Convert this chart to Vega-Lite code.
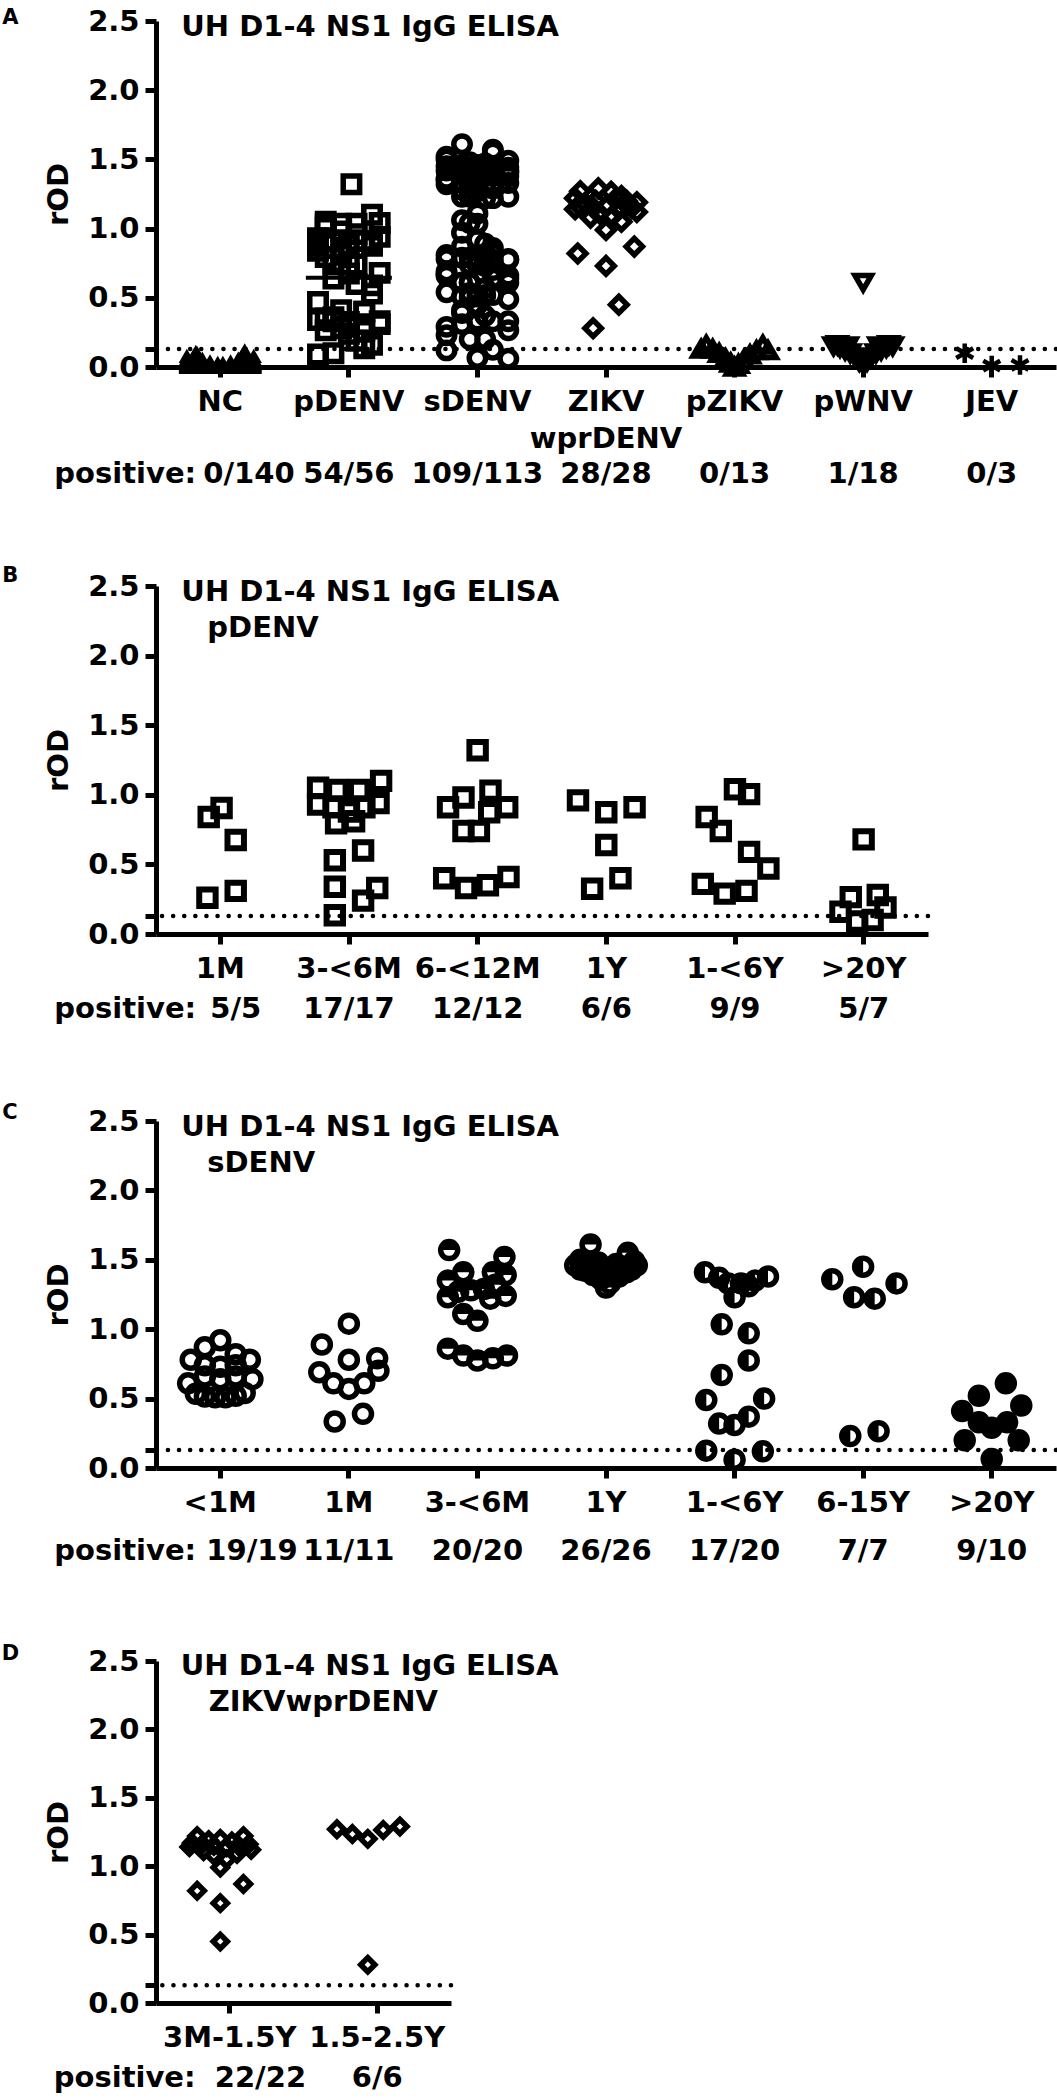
{
  "$schema": "https://vega.github.io/schema/vega-lite/v6.json",
  "background": "white",
  "padding": {"left": 1, "top": 7, "right": 0, "bottom": 0},
  "spacing": 76,
  "config": {
    "view": {"stroke": null},
    "font": "DejaVu Sans",
    "axis": {
      "grid": false, "domainColor": "black", "domainWidth": 5, "tickColor": "black", "tickWidth": 5,
      "labelColor": "black", "labelFont": "DejaVu Sans", "labelFontWeight": "bold", "labelFontSize": 29,
      "titleColor": "black", "titleFont": "DejaVu Sans", "titleFontWeight": "bold", "titleFontSize": 29
    },
    "axisX": {"tickSize": 10, "labelPadding": 10, "labelAngle": 0, "labelBaseline": "top", "labelLineHeight": 37, "labelOverlap": false, "labelFlush": false},
    "axisY": {"tickSize": 11, "labelPadding": 6, "titlePadding": 14},
    "text": {"font": "DejaVu Sans", "fontWeight": "bold", "fontSize": 29, "color": "black", "baseline": "middle"}
  },
  "datasets": {
    "posA": [
      {"g": "NC", "n": "0/140"}, {"g": "pDENV", "n": "54/56"}, {"g": "sDENV", "n": "109/113"},
      {"g": "ZIKVwprDENV", "n": "28/28"}, {"g": "pZIKV", "n": "0/13"}, {"g": "pWNV", "n": "1/18"}, {"g": "JEV", "n": "0/3"}
    ],
    "posB": [
      {"g": "1M", "n": "5/5"}, {"g": "3-<6M", "n": "17/17"}, {"g": "6-<12M", "n": "12/12"},
      {"g": "1Y", "n": "6/6"}, {"g": "1-<6Y", "n": "9/9"}, {"g": ">20Y", "n": "5/7"}
    ],
    "posC": [
      {"g": "<1M", "n": "19/19"}, {"g": "1M", "n": "11/11"}, {"g": "3-<6M", "n": "20/20"}, {"g": "1Y", "n": "26/26"},
      {"g": "1-<6Y", "n": "17/20"}, {"g": "6-15Y", "n": "7/7"}, {"g": ">20Y", "n": "9/10"}
    ],
    "posD": [
      {"g": "3M-1.5Y", "n": "22/22"}, {"g": "1.5-2.5Y", "n": "6/6"}
    ],
    "ptsA": [
      {"g":"NC","v":0.02,"j":-0.26},{"g":"NC","v":0.03,"j":-0.2},{"g":"NC","v":0.01,"j":-0.14},{"g":"NC","v":0.0,"j":-0.08},{"g":"NC","v":0.0,"j":-0.02},{"g":"NC","v":0.0,"j":0.02},{"g":"NC","v":0.0,"j":0.08},{"g":"NC","v":0.01,"j":0.14},{"g":"NC","v":0.03,"j":0.2},{"g":"NC","v":0.02,"j":0.26},
      {"g":"NC","v":0.04,"j":-0.26},{"g":"NC","v":0.05,"j":-0.2},{"g":"NC","v":0.02,"j":-0.14},{"g":"NC","v":0.01,"j":-0.08},{"g":"NC","v":0.0,"j":-0.02},{"g":"NC","v":0.01,"j":0.02},{"g":"NC","v":0.01,"j":0.08},{"g":"NC","v":0.02,"j":0.14},{"g":"NC","v":0.05,"j":0.2},{"g":"NC","v":0.04,"j":0.26},
      {"g":"NC","v":0.06,"j":-0.26},{"g":"NC","v":0.07,"j":-0.2},{"g":"NC","v":0.03,"j":-0.14},{"g":"NC","v":0.01,"j":-0.08},{"g":"NC","v":0.01,"j":-0.02},{"g":"NC","v":0.0,"j":0.02},{"g":"NC","v":0.01,"j":0.08},{"g":"NC","v":0.03,"j":0.14},{"g":"NC","v":0.07,"j":0.2},{"g":"NC","v":0.06,"j":0.26},
      {"g":"NC","v":0.01,"j":-0.26},{"g":"NC","v":0.09,"j":-0.2},{"g":"NC","v":0.04,"j":-0.14},{"g":"NC","v":0.02,"j":-0.08},{"g":"NC","v":0.01,"j":-0.02},{"g":"NC","v":0.01,"j":0.02},{"g":"NC","v":0.02,"j":0.08},{"g":"NC","v":0.04,"j":0.14},{"g":"NC","v":0.09,"j":0.2},{"g":"NC","v":0.01,"j":0.26},
      {"g":"NC","v":0.03,"j":-0.26},{"g":"NC","v":0.11,"j":-0.19},{"g":"NC","v":0.02,"j":-0.14},{"g":"NC","v":0.0,"j":-0.08},{"g":"NC","v":0.02,"j":-0.02},{"g":"NC","v":0.02,"j":0.02},{"g":"NC","v":0.0,"j":0.08},{"g":"NC","v":0.02,"j":0.14},{"g":"NC","v":0.12,"j":0.19},{"g":"NC","v":0.03,"j":0.26},
      {"g":"NC","v":0.05,"j":-0.26},{"g":"NC","v":0.01,"j":-0.2},{"g":"NC","v":0.05,"j":-0.14},{"g":"NC","v":0.03,"j":-0.08},{"g":"NC","v":0.01,"j":-0.02},{"g":"NC","v":0.0,"j":0.02},{"g":"NC","v":0.03,"j":0.08},{"g":"NC","v":0.05,"j":0.14},{"g":"NC","v":0.01,"j":0.2},{"g":"NC","v":0.05,"j":0.26},
      {"g":"NC","v":0.08,"j":-0.26},{"g":"NC","v":0.04,"j":-0.2},{"g":"NC","v":0.0,"j":-0.14},{"g":"NC","v":0.02,"j":-0.08},{"g":"NC","v":0.0,"j":-0.02},{"g":"NC","v":0.01,"j":0.02},{"g":"NC","v":0.02,"j":0.08},{"g":"NC","v":0.0,"j":0.14},{"g":"NC","v":0.04,"j":0.2},{"g":"NC","v":0.08,"j":0.26},
      {"g":"NC","v":0.0,"j":-0.26},{"g":"NC","v":0.06,"j":-0.2},{"g":"NC","v":0.03,"j":-0.14},{"g":"NC","v":0.01,"j":-0.08},{"g":"NC","v":0.02,"j":-0.02},{"g":"NC","v":0.02,"j":0.02},{"g":"NC","v":0.01,"j":0.08},{"g":"NC","v":0.03,"j":0.14},{"g":"NC","v":0.06,"j":0.2},{"g":"NC","v":0.0,"j":0.26},
      {"g":"NC","v":0.02,"j":-0.26},{"g":"NC","v":0.08,"j":-0.2},{"g":"NC","v":0.01,"j":-0.14},{"g":"NC","v":0.03,"j":-0.08},{"g":"NC","v":0.0,"j":-0.02},{"g":"NC","v":0.0,"j":0.02},{"g":"NC","v":0.03,"j":0.08},{"g":"NC","v":0.01,"j":0.14},{"g":"NC","v":0.08,"j":0.2},{"g":"NC","v":0.02,"j":0.26},
      {"g":"NC","v":0.04,"j":-0.26},{"g":"NC","v":0.02,"j":-0.2},{"g":"NC","v":0.04,"j":-0.14},{"g":"NC","v":0.0,"j":-0.08},{"g":"NC","v":0.01,"j":-0.02},{"g":"NC","v":0.01,"j":0.02},{"g":"NC","v":0.0,"j":0.08},{"g":"NC","v":0.04,"j":0.14},{"g":"NC","v":0.02,"j":0.2},{"g":"NC","v":0.04,"j":0.26},
      {"g":"NC","v":0.01,"j":-0.26},{"g":"NC","v":0.1,"j":-0.18},{"g":"NC","v":0.02,"j":-0.14},{"g":"NC","v":0.02,"j":-0.08},{"g":"NC","v":0.03,"j":-0.02},{"g":"NC","v":0.03,"j":0.02},{"g":"NC","v":0.02,"j":0.08},{"g":"NC","v":0.02,"j":0.14},{"g":"NC","v":0.1,"j":0.18},{"g":"NC","v":0.01,"j":0.26},
      {"g":"NC","v":0.03,"j":-0.26},{"g":"NC","v":0.05,"j":-0.2},{"g":"NC","v":0.06,"j":-0.14},{"g":"NC","v":0.01,"j":-0.08},{"g":"NC","v":0.0,"j":-0.02},{"g":"NC","v":0.0,"j":0.02},{"g":"NC","v":0.01,"j":0.08},{"g":"NC","v":0.06,"j":0.14},{"g":"NC","v":0.05,"j":0.2},{"g":"NC","v":0.03,"j":0.26},
      {"g":"NC","v":0.05,"j":-0.26},{"g":"NC","v":0.03,"j":-0.2},{"g":"NC","v":0.0,"j":-0.14},{"g":"NC","v":0.04,"j":-0.08},{"g":"NC","v":0.02,"j":-0.02},{"g":"NC","v":0.02,"j":0.02},{"g":"NC","v":0.04,"j":0.08},{"g":"NC","v":0.0,"j":0.14},{"g":"NC","v":0.03,"j":0.2},{"g":"NC","v":0.05,"j":0.26},
      {"g":"NC","v":0.02,"j":-0.26},{"g":"NC","v":0.07,"j":-0.2},{"g":"NC","v":0.04,"j":-0.14},{"g":"NC","v":0.0,"j":-0.08},{"g":"NC","v":0.01,"j":-0.02},{"g":"NC","v":0.0,"j":0.02},{"g":"NC","v":0.0,"j":0.08},{"g":"NC","v":0.04,"j":0.14},{"g":"NC","v":0.07,"j":0.2},{"g":"NC","v":0.02,"j":0.26},
      {"g":"pDENV","v":0.84,"j":-0.24},{"g":"pDENV","v":0.905,"j":-0.12},{"g":"pDENV","v":0.675,"j":0},{"g":"pDENV","v":0.26,"j":0.12},{"g":"pDENV","v":0.31,"j":0.24},
      {"g":"pDENV","v":1.05,"j":-0.18},{"g":"pDENV","v":1.035,"j":-0.06},{"g":"pDENV","v":1.035,"j":0.06},{"g":"pDENV","v":1.1,"j":0.18},{"g":"pDENV","v":0.93,"j":-0.24},{"g":"pDENV","v":0.91,"j":-0.12},{"g":"pDENV","v":0.88,"j":0},{"g":"pDENV","v":0.91,"j":0.12},{"g":"pDENV","v":0.94,"j":0.24},{"g":"pDENV","v":0.795,"j":-0.18},{"g":"pDENV","v":0.81,"j":-0.06},{"g":"pDENV","v":0.6,"j":0.06},{"g":"pDENV","v":0.53,"j":0.18},{"g":"pDENV","v":0.34,"j":-0.24},{"g":"pDENV","v":0.33,"j":-0.12},{"g":"pDENV","v":0.24,"j":0},{"g":"pDENV","v":0.135,"j":0.12},
      {"g":"pDENV","v":1.32,"j":0.02},{"g":"pDENV","v":1.03,"j":-0.18},{"g":"pDENV","v":0.98,"j":-0.06},{"g":"pDENV","v":0.91,"j":0.06},{"g":"pDENV","v":0.91,"j":0.18},{"g":"pDENV","v":0.875,"j":-0.24},{"g":"pDENV","v":0.74,"j":-0.12},{"g":"pDENV","v":0.74,"j":0},{"g":"pDENV","v":0.4,"j":0.12},{"g":"pDENV","v":0.33,"j":0.24},{"g":"pDENV","v":0.35,"j":-0.18},{"g":"pDENV","v":0.41,"j":-0.06},
      {"g":"pDENV","v":0.96,"j":0.06},{"g":"pDENV","v":0.875,"j":0.18},{"g":"pDENV","v":0.91,"j":-0.24},{"g":"pDENV","v":0.64,"j":-0.12},{"g":"pDENV","v":0.325,"j":0},{"g":"pDENV","v":0.4,"j":0.12},
      {"g":"pDENV","v":1.04,"j":0.24},{"g":"pDENV","v":1.005,"j":-0.18},{"g":"pDENV","v":0.84,"j":-0.06},{"g":"pDENV","v":0.74,"j":0.06},{"g":"pDENV","v":0.59,"j":0.18},{"g":"pDENV","v":0.47,"j":-0.24},{"g":"pDENV","v":0.36,"j":-0.12},{"g":"pDENV","v":0.29,"j":0},{"g":"pDENV","v":0.31,"j":0.12},
      {"g":"pDENV","v":0.68,"j":0.24},{"g":"pDENV","v":0.265,"j":-0.18},{"g":"pDENV","v":0.28,"j":-0.06},{"g":"pDENV","v":0.19,"j":0.06},{"g":"pDENV","v":0.16,"j":0.18},{"g":"pDENV","v":0.09,"j":-0.24},{"g":"pDENV","v":0.1,"j":-0.12},
      {"g":"sDENV","v":0.92,"j":0},{"g":"sDENV","v":0.87,"j":-0.12},{"g":"sDENV","v":0.82,"j":0.12},{"g":"sDENV","v":0.78,"j":-0.24},{"g":"sDENV","v":0.78,"j":0.24},{"g":"sDENV","v":0.74,"j":-0.06},{"g":"sDENV","v":0.73,"j":0.06},{"g":"sDENV","v":0.74,"j":0},{"g":"sDENV","v":0.61,"j":-0.12},{"g":"sDENV","v":0.64,"j":0.12},{"g":"sDENV","v":0.66,"j":-0.24},{"g":"sDENV","v":0.66,"j":0.24},{"g":"sDENV","v":0.535,"j":-0.06},{"g":"sDENV","v":0.515,"j":0.06},{"g":"sDENV","v":0.51,"j":0},{"g":"sDENV","v":0.51,"j":-0.12},{"g":"sDENV","v":0.52,"j":0.12},{"g":"sDENV","v":0.54,"j":-0.24},{"g":"sDENV","v":0.64,"j":0.24},
      {"g":"sDENV","v":1.04,"j":-0.06},{"g":"sDENV","v":0.89,"j":0.06},{"g":"sDENV","v":0.78,"j":0},{"g":"sDENV","v":0.79,"j":-0.12},{"g":"sDENV","v":0.7,"j":0.12},{"g":"sDENV","v":0.69,"j":-0.24},{"g":"sDENV","v":0.61,"j":0.24},{"g":"sDENV","v":0.61,"j":-0.06},{"g":"sDENV","v":0.57,"j":0.06},{"g":"sDENV","v":0.335,"j":0},{"g":"sDENV","v":0.39,"j":-0.12},
      {"g":"sDENV","v":1.57,"j":0.12},{"g":"sDENV","v":1.52,"j":-0.24},{"g":"sDENV","v":1.41,"j":0.24},{"g":"sDENV","v":1.41,"j":-0.06},{"g":"sDENV","v":1.39,"j":0.06},{"g":"sDENV","v":1.35,"j":0},{"g":"sDENV","v":1.28,"j":-0.12},{"g":"sDENV","v":1.29,"j":0.12},{"g":"sDENV","v":1.32,"j":-0.24},{"g":"sDENV","v":1.23,"j":0.24},{"g":"sDENV","v":1.24,"j":-0.06},{"g":"sDENV","v":1.22,"j":0.06},{"g":"sDENV","v":1.11,"j":0},{"g":"sDENV","v":1.06,"j":-0.12},{"g":"sDENV","v":0.86,"j":0.12},{"g":"sDENV","v":0.81,"j":-0.24},{"g":"sDENV","v":0.775,"j":0.24},{"g":"sDENV","v":0.79,"j":-0.06},{"g":"sDENV","v":0.81,"j":0.06},{"g":"sDENV","v":1.27,"j":0},
      {"g":"sDENV","v":1.61,"j":-0.12},{"g":"sDENV","v":1.55,"j":0.12},{"g":"sDENV","v":1.5,"j":-0.24},{"g":"sDENV","v":1.49,"j":0.24},{"g":"sDENV","v":1.48,"j":-0.06},{"g":"sDENV","v":1.47,"j":0.06},{"g":"sDENV","v":1.46,"j":0},{"g":"sDENV","v":1.46,"j":-0.12},{"g":"sDENV","v":1.45,"j":0.12},{"g":"sDENV","v":1.45,"j":-0.24},{"g":"sDENV","v":1.44,"j":0.24},{"g":"sDENV","v":1.44,"j":-0.06},{"g":"sDENV","v":1.43,"j":0.06},{"g":"sDENV","v":1.43,"j":0},{"g":"sDENV","v":1.43,"j":-0.12},{"g":"sDENV","v":1.42,"j":0.12},{"g":"sDENV","v":1.42,"j":-0.24},{"g":"sDENV","v":1.41,"j":0.24},{"g":"sDENV","v":1.41,"j":-0.06},{"g":"sDENV","v":1.4,"j":0.06},{"g":"sDENV","v":1.4,"j":0},{"g":"sDENV","v":1.39,"j":-0.12},{"g":"sDENV","v":1.38,"j":0.12},{"g":"sDENV","v":1.36,"j":-0.24},{"g":"sDENV","v":1.33,"j":0.24},{"g":"sDENV","v":1.3,"j":-0.06},
      {"g":"sDENV","v":1.41,"j":0.06},{"g":"sDENV","v":1.37,"j":0},{"g":"sDENV","v":1.33,"j":-0.12},{"g":"sDENV","v":1.33,"j":0.12},{"g":"sDENV","v":1.35,"j":-0.24},{"g":"sDENV","v":1.38,"j":0.24},{"g":"sDENV","v":1.23,"j":-0.06},{"g":"sDENV","v":1.31,"j":0.06},{"g":"sDENV","v":1.035,"j":0},{"g":"sDENV","v":0.97,"j":-0.12},{"g":"sDENV","v":0.775,"j":0.12},{"g":"sDENV","v":0.67,"j":-0.24},{"g":"sDENV","v":0.49,"j":0.24},{"g":"sDENV","v":0.5,"j":-0.06},{"g":"sDENV","v":0.37,"j":0.06},{"g":"sDENV","v":0.32,"j":0},{"g":"sDENV","v":0.31,"j":-0.12},{"g":"sDENV","v":0.125,"j":0.12},{"g":"sDENV","v":0.12,"j":-0.24},{"g":"sDENV","v":0.06,"j":0.24},
      {"g":"sDENV","v":1.36,"j":-0.06},{"g":"sDENV","v":1.45,"j":0.06},{"g":"sDENV","v":1.33,"j":0},{"g":"sDENV","v":1.23,"j":-0.12},{"g":"sDENV","v":1.22,"j":0.12},{"g":"sDENV","v":0.23,"j":-0.24},{"g":"sDENV","v":0.265,"j":0.24},
      {"g":"sDENV","v":0.61,"j":-0.06},{"g":"sDENV","v":0.52,"j":0.06},{"g":"sDENV","v":0.45,"j":0},{"g":"sDENV","v":0.41,"j":-0.12},{"g":"sDENV","v":0.33,"j":0.12},{"g":"sDENV","v":0.29,"j":-0.24},{"g":"sDENV","v":0.33,"j":0.24},{"g":"sDENV","v":0.2,"j":-0.06},{"g":"sDENV","v":0.2,"j":0.06},{"g":"sDENV","v":0.065,"j":0},
      {"g":"ZIKVwprDENV","v":1.22,"j":-0.24},{"g":"ZIKVwprDENV","v":1.2,"j":-0.08},{"g":"ZIKVwprDENV","v":1.22,"j":0.08},{"g":"ZIKVwprDENV","v":1.19,"j":0.24},{"g":"ZIKVwprDENV","v":1.18,"j":-0.16},{"g":"ZIKVwprDENV","v":1.17,"j":0.16},{"g":"ZIKVwprDENV","v":1.16,"j":0},{"g":"ZIKVwprDENV","v":1.16,"j":-0.2},{"g":"ZIKVwprDENV","v":1.15,"j":0.2},{"g":"ZIKVwprDENV","v":1.15,"j":-0.1},{"g":"ZIKVwprDENV","v":1.14,"j":0.1},{"g":"ZIKVwprDENV","v":1.14,"j":-0.24},{"g":"ZIKVwprDENV","v":1.12,"j":0.24},{"g":"ZIKVwprDENV","v":1.11,"j":-0.05},{"g":"ZIKVwprDENV","v":1.09,"j":0.05},{"g":"ZIKVwprDENV","v":1.08,"j":-0.12},{"g":"ZIKVwprDENV","v":1.05,"j":0.12},{"g":"ZIKVwprDENV","v":0.99,"j":0},
      {"g":"ZIKVwprDENV","v":0.82,"j":-0.22},{"g":"ZIKVwprDENV","v":0.73,"j":0},{"g":"ZIKVwprDENV","v":0.87,"j":0.22},{"g":"ZIKVwprDENV","v":0.45,"j":0.1},
      {"g":"ZIKVwprDENV","v":1.27,"j":-0.2},{"g":"ZIKVwprDENV","v":1.235,"j":0.12},{"g":"ZIKVwprDENV","v":1.2,"j":0.16},{"g":"ZIKVwprDENV","v":1.265,"j":0.04},{"g":"ZIKVwprDENV","v":1.29,"j":-0.06},{"g":"ZIKVwprDENV","v":0.28,"j":-0.1},
      {"g":"pZIKV","v":0.13,"j":-0.26},{"g":"pZIKV","v":0.16,"j":-0.22},{"g":"pZIKV","v":0.13,"j":-0.17},{"g":"pZIKV","v":0.1,"j":-0.12},{"g":"pZIKV","v":0.06,"j":-0.07},{"g":"pZIKV","v":0.03,"j":-0.03},{"g":"pZIKV","v":0.0,"j":0},{"g":"pZIKV","v":0.02,"j":0.03},{"g":"pZIKV","v":0.05,"j":0.07},{"g":"pZIKV","v":0.09,"j":0.12},{"g":"pZIKV","v":0.12,"j":0.17},{"g":"pZIKV","v":0.16,"j":0.22},{"g":"pZIKV","v":0.12,"j":0.26},
      {"g":"pWNV","v":0.61,"j":0},{"g":"pWNV","v":0.15,"j":-0.23},{"g":"pWNV","v":0.16,"j":-0.2},{"g":"pWNV","v":0.14,"j":-0.18},{"g":"pWNV","v":0.12,"j":-0.14},{"g":"pWNV","v":0.15,"j":-0.12},{"g":"pWNV","v":0.1,"j":-0.1},{"g":"pWNV","v":0.07,"j":-0.06},{"g":"pWNV","v":0.04,"j":-0.03},{"g":"pWNV","v":0.02,"j":0},{"g":"pWNV","v":0.04,"j":0.03},{"g":"pWNV","v":0.07,"j":0.06},{"g":"pWNV","v":0.1,"j":0.1},{"g":"pWNV","v":0.15,"j":0.12},{"g":"pWNV","v":0.12,"j":0.14},{"g":"pWNV","v":0.14,"j":0.18},{"g":"pWNV","v":0.16,"j":0.2},{"g":"pWNV","v":0.15,"j":0.23},
      {"g":"JEV","v":0.1,"j":-0.21},{"g":"JEV","v":0.01,"j":0},{"g":"JEV","v":0.015,"j":0.22}
    ],
    "ptsB": [
      {"g":"1M","v":0.84,"j":-0.09},{"g":"1M","v":0.905,"j":0.01},{"g":"1M","v":0.675,"j":0.12},{"g":"1M","v":0.26,"j":-0.1},{"g":"1M","v":0.31,"j":0.12},
      {"g":"3-<6M","v":1.05,"j":-0.24},{"g":"3-<6M","v":1.035,"j":-0.09},{"g":"3-<6M","v":1.035,"j":0.08},{"g":"3-<6M","v":1.1,"j":0.25},{"g":"3-<6M","v":0.93,"j":-0.24},{"g":"3-<6M","v":0.91,"j":-0.12},{"g":"3-<6M","v":0.88,"j":0},{"g":"3-<6M","v":0.91,"j":0.12},{"g":"3-<6M","v":0.94,"j":0.23},{"g":"3-<6M","v":0.795,"j":-0.1},{"g":"3-<6M","v":0.81,"j":0.04},{"g":"3-<6M","v":0.6,"j":0.11},{"g":"3-<6M","v":0.53,"j":-0.11},{"g":"3-<6M","v":0.34,"j":-0.11},{"g":"3-<6M","v":0.33,"j":0.22},{"g":"3-<6M","v":0.24,"j":0.11},{"g":"3-<6M","v":0.135,"j":-0.11},
      {"g":"6-<12M","v":1.32,"j":0},{"g":"6-<12M","v":1.03,"j":0.1},{"g":"6-<12M","v":0.98,"j":-0.11},{"g":"6-<12M","v":0.91,"j":0.23},{"g":"6-<12M","v":0.91,"j":-0.23},{"g":"6-<12M","v":0.875,"j":0.09},{"g":"6-<12M","v":0.74,"j":-0.11},{"g":"6-<12M","v":0.74,"j":0.01},{"g":"6-<12M","v":0.4,"j":-0.26},{"g":"6-<12M","v":0.33,"j":-0.09},{"g":"6-<12M","v":0.35,"j":0.08},{"g":"6-<12M","v":0.41,"j":0.24},
      {"g":"1Y","v":0.96,"j":-0.22},{"g":"1Y","v":0.875,"j":0},{"g":"1Y","v":0.91,"j":0.22},{"g":"1Y","v":0.64,"j":0},{"g":"1Y","v":0.325,"j":-0.11},{"g":"1Y","v":0.4,"j":0.11},
      {"g":"1-<6Y","v":1.04,"j":0},{"g":"1-<6Y","v":1.005,"j":0.11},{"g":"1-<6Y","v":0.84,"j":-0.22},{"g":"1-<6Y","v":0.74,"j":-0.11},{"g":"1-<6Y","v":0.59,"j":0.11},{"g":"1-<6Y","v":0.47,"j":0.26},{"g":"1-<6Y","v":0.36,"j":-0.25},{"g":"1-<6Y","v":0.29,"j":-0.08},{"g":"1-<6Y","v":0.31,"j":0.09},
      {"g":">20Y","v":0.68,"j":0},{"g":">20Y","v":0.265,"j":-0.1},{"g":">20Y","v":0.28,"j":0.11},{"g":">20Y","v":0.19,"j":0.17},{"g":">20Y","v":0.16,"j":-0.18},{"g":">20Y","v":0.09,"j":-0.05},{"g":">20Y","v":0.1,"j":0.07}
    ],
    "ptsC": [
      {"g":"<1M","v":0.92,"j":0},{"g":"<1M","v":0.87,"j":-0.12},{"g":"<1M","v":0.82,"j":0.12},{"g":"<1M","v":0.78,"j":-0.23},{"g":"<1M","v":0.78,"j":0.23},{"g":"<1M","v":0.74,"j":-0.12},{"g":"<1M","v":0.73,"j":0},{"g":"<1M","v":0.74,"j":0.12},{"g":"<1M","v":0.61,"j":-0.25},{"g":"<1M","v":0.64,"j":0.25},{"g":"<1M","v":0.66,"j":-0.12},{"g":"<1M","v":0.66,"j":0.12},{"g":"<1M","v":0.535,"j":-0.19},{"g":"<1M","v":0.515,"j":-0.12},{"g":"<1M","v":0.51,"j":-0.04},{"g":"<1M","v":0.51,"j":0.04},{"g":"<1M","v":0.52,"j":0.12},{"g":"<1M","v":0.54,"j":0.19},{"g":"<1M","v":0.64,"j":0},
      {"g":"1M","v":1.04,"j":0},{"g":"1M","v":0.89,"j":-0.21},{"g":"1M","v":0.78,"j":0},{"g":"1M","v":0.79,"j":0.22},{"g":"1M","v":0.7,"j":0.23},{"g":"1M","v":0.69,"j":-0.23},{"g":"1M","v":0.61,"j":-0.12},{"g":"1M","v":0.61,"j":0.12},{"g":"1M","v":0.57,"j":0},{"g":"1M","v":0.335,"j":-0.11},{"g":"1M","v":0.39,"j":0.11},
      {"g":"3-<6M","v":1.57,"j":-0.22},{"g":"3-<6M","v":1.52,"j":0.21},{"g":"3-<6M","v":1.41,"j":-0.11},{"g":"3-<6M","v":1.41,"j":0.12},{"g":"3-<6M","v":1.39,"j":0.22},{"g":"3-<6M","v":1.35,"j":-0.23},{"g":"3-<6M","v":1.28,"j":-0.05},{"g":"3-<6M","v":1.29,"j":0.05},{"g":"3-<6M","v":1.32,"j":0.14},{"g":"3-<6M","v":1.23,"j":-0.23},{"g":"3-<6M","v":1.24,"j":0.22},{"g":"3-<6M","v":1.22,"j":0.1},{"g":"3-<6M","v":1.11,"j":-0.11},{"g":"3-<6M","v":1.06,"j":0},{"g":"3-<6M","v":0.86,"j":-0.23},{"g":"3-<6M","v":0.81,"j":-0.11},{"g":"3-<6M","v":0.775,"j":0},{"g":"3-<6M","v":0.79,"j":0.12},{"g":"3-<6M","v":0.81,"j":0.23},{"g":"3-<6M","v":1.27,"j":-0.15},
      {"g":"1Y","v":1.61,"j":-0.12},{"g":"1Y","v":1.55,"j":0.17},{"g":"1Y","v":1.5,"j":-0.2},{"g":"1Y","v":1.49,"j":0.22},{"g":"1Y","v":1.48,"j":-0.06},{"g":"1Y","v":1.47,"j":0.08},{"g":"1Y","v":1.46,"j":-0.24},{"g":"1Y","v":1.46,"j":0.24},{"g":"1Y","v":1.45,"j":-0.14},{"g":"1Y","v":1.45,"j":0.14},{"g":"1Y","v":1.44,"j":-0.02},{"g":"1Y","v":1.44,"j":0.04},{"g":"1Y","v":1.43,"j":-0.2},{"g":"1Y","v":1.43,"j":0.2},{"g":"1Y","v":1.43,"j":-0.09},{"g":"1Y","v":1.42,"j":0.1},{"g":"1Y","v":1.42,"j":-0.16},{"g":"1Y","v":1.41,"j":0.16},{"g":"1Y","v":1.41,"j":0},{"g":"1Y","v":1.4,"j":-0.06},{"g":"1Y","v":1.4,"j":0.06},{"g":"1Y","v":1.39,"j":-0.1},{"g":"1Y","v":1.38,"j":0.1},{"g":"1Y","v":1.36,"j":-0.04},{"g":"1Y","v":1.33,"j":0.03},{"g":"1Y","v":1.3,"j":0},
      {"g":"1-<6Y","v":1.41,"j":-0.23},{"g":"1-<6Y","v":1.37,"j":-0.12},{"g":"1-<6Y","v":1.33,"j":-0.05},{"g":"1-<6Y","v":1.33,"j":0.05},{"g":"1-<6Y","v":1.35,"j":0.16},{"g":"1-<6Y","v":1.38,"j":0.26},{"g":"1-<6Y","v":1.23,"j":0},{"g":"1-<6Y","v":1.31,"j":0.11},{"g":"1-<6Y","v":1.035,"j":-0.1},{"g":"1-<6Y","v":0.97,"j":0.11},{"g":"1-<6Y","v":0.775,"j":0.11},{"g":"1-<6Y","v":0.67,"j":-0.1},{"g":"1-<6Y","v":0.49,"j":-0.22},{"g":"1-<6Y","v":0.5,"j":0.23},{"g":"1-<6Y","v":0.37,"j":0.11},{"g":"1-<6Y","v":0.32,"j":-0.12},{"g":"1-<6Y","v":0.31,"j":0},{"g":"1-<6Y","v":0.125,"j":-0.22},{"g":"1-<6Y","v":0.12,"j":0.22},{"g":"1-<6Y","v":0.06,"j":0},
      {"g":"6-15Y","v":1.36,"j":-0.24},{"g":"6-15Y","v":1.45,"j":0},{"g":"6-15Y","v":1.33,"j":0.26},{"g":"6-15Y","v":1.23,"j":-0.07},{"g":"6-15Y","v":1.22,"j":0.09},{"g":"6-15Y","v":0.23,"j":-0.1},{"g":"6-15Y","v":0.265,"j":0.12},
      {"g":">20Y","v":0.61,"j":0.11},{"g":">20Y","v":0.52,"j":-0.1},{"g":">20Y","v":0.45,"j":0.23},{"g":">20Y","v":0.41,"j":-0.23},{"g":">20Y","v":0.33,"j":-0.1},{"g":">20Y","v":0.29,"j":0},{"g":">20Y","v":0.33,"j":0.12},{"g":">20Y","v":0.2,"j":-0.21},{"g":">20Y","v":0.2,"j":0.21},{"g":">20Y","v":0.065,"j":0}
    ],
    "ptsD": [
      {"g":"3M-1.5Y","v":1.22,"j":-0.18},{"g":"3M-1.5Y","v":1.2,"j":0},{"g":"3M-1.5Y","v":1.22,"j":0.18},{"g":"3M-1.5Y","v":1.19,"j":-0.09},{"g":"3M-1.5Y","v":1.18,"j":0.09},{"g":"3M-1.5Y","v":1.17,"j":-0.22},{"g":"3M-1.5Y","v":1.16,"j":0.22},{"g":"3M-1.5Y","v":1.16,"j":-0.14},{"g":"3M-1.5Y","v":1.15,"j":0.14},{"g":"3M-1.5Y","v":1.15,"j":-0.05},{"g":"3M-1.5Y","v":1.14,"j":0.05},{"g":"3M-1.5Y","v":1.14,"j":-0.24},{"g":"3M-1.5Y","v":1.12,"j":0.24},{"g":"3M-1.5Y","v":1.11,"j":-0.13},{"g":"3M-1.5Y","v":1.09,"j":0.13},{"g":"3M-1.5Y","v":1.08,"j":-0.05},{"g":"3M-1.5Y","v":1.05,"j":0.05},{"g":"3M-1.5Y","v":0.99,"j":0},
      {"g":"3M-1.5Y","v":0.82,"j":-0.18},{"g":"3M-1.5Y","v":0.73,"j":0},{"g":"3M-1.5Y","v":0.87,"j":0.18},{"g":"3M-1.5Y","v":0.45,"j":0},
      {"g":"1.5-2.5Y","v":1.27,"j":-0.24},{"g":"1.5-2.5Y","v":1.235,"j":-0.12},{"g":"1.5-2.5Y","v":1.2,"j":0},{"g":"1.5-2.5Y","v":1.265,"j":0.12},{"g":"1.5-2.5Y","v":1.29,"j":0.25},{"g":"1.5-2.5Y","v":0.28,"j":0}
    ]
  },
  "vconcat": [
    {
      "width": 900, "height": 346,
      "layer": [
        {
          "data": {"values": [{}]},
          "mark": {"type": "rule", "color": "black", "strokeWidth": 4.5, "strokeCap": "round", "strokeDash": [0.1, 11]},
          "encoding": {"y": {"datum": 0.13, "type": "quantitative", "scale": {"domain": [0, 2.5], "nice": false, "zero": false}}}
        },
        {
          "data": {"name": "ptsA"},
          "transform": [{"filter": "datum.g != 'NC' && datum.g != 'JEV'"}],
          "mark": {"type": "point", "filled": false, "size": 270, "strokeWidth": 5.5, "color": "black", "opacity": 1},
          "encoding": {
            "x": {"field": "g", "type": "nominal",
                  "scale": {"type": "band", "domain": ["NC","pDENV","sDENV","ZIKVwprDENV","pZIKV","pWNV","JEV"], "paddingInner": 0, "paddingOuter": 0},
                  "axis": {"title": null, "labelExpr": "datum.label == 'ZIKVwprDENV' ? ['ZIKV', 'wprDENV'] : datum.label"}},
            "xOffset": {"field": "j", "type": "quantitative", "scale": {"domain": [-0.5, 0.5], "range": [0, 128.57]}},
            "y": {"field": "v", "type": "quantitative", "scale": {"domain": [0, 2.5], "nice": false, "zero": false},
                  "axis": {"title": "rOD", "values": [0, 0.5, 1, 1.5, 2, 2.5, 0.13], "labelExpr": "datum.value == 0.13 ? '' : format(datum.value, '.1f')"}},
            "shape": {"field": "g", "type": "nominal", "legend": null,
                      "scale": {"domain": ["pDENV","sDENV","ZIKVwprDENV","pZIKV","pWNV"],
                                "range": ["square","circle","diamond","triangle-up","triangle-down"]}}
          }
        },
        {
          "data": {"name": "ptsA"},
          "transform": [{"filter": "datum.g == 'NC'"}],
          "mark": {"type": "point", "shape": "triangle-up", "filled": true, "size": 270, "color": "black", "opacity": 1},
          "encoding": {
            "x": {"field": "g", "type": "nominal"},
            "xOffset": {"field": "j", "type": "quantitative"},
            "y": {"field": "v", "type": "quantitative"}
          }
        },
        {
          "data": {"name": "ptsA"},
          "transform": [{"filter": "datum.g == 'JEV'"}],
          "mark": {"type": "point", "shape": "M0,-1L0,1M-0.87,-0.5L0.87,0.5M-0.87,0.5L0.87,-0.5", "filled": false, "size": 380, "strokeWidth": 4.5, "color": "black", "opacity": 1},
          "encoding": {
            "x": {"field": "g", "type": "nominal"},
            "xOffset": {"field": "j", "type": "quantitative"},
            "y": {"field": "v", "type": "quantitative"}
          }
        },
        {
          "data": {"name": "ptsA"},
          "transform": [{"filter": "datum.g == 'pDENV'"}, {"aggregate": [{"op": "mean", "field": "v", "as": "m"}], "groupby": ["g"]}],
          "mark": {"type": "tick", "color": "black", "size": 86, "thickness": 4, "opacity": 1},
          "encoding": {"x": {"field": "g", "type": "nominal"}, "y": {"field": "m", "type": "quantitative"}}
        },
        {
          "data": {"name": "posA"},
          "transform": [{"filter": "datum.g == 'NC'"}],
          "mark": {"type": "text", "text": "UH D1-4 NS1 IgG ELISA", "align": "left", "dx": -39},
          "encoding": {"x": {"field": "g", "type": "nominal"}, "y": {"datum": 2.46, "type": "quantitative"}}
        },
        {
          "data": {"name": "posA"},
          "transform": [{"filter": "datum.g == 'NC'"}],
          "mark": {"type": "text", "text": "A", "align": "left", "dx": -218, "fontSize": 21},
          "encoding": {"x": {"field": "g", "type": "nominal"}, "y": {"datum": 2.52, "type": "quantitative"}}
        },
        {
          "data": {"name": "posA"},
          "transform": [{"filter": "datum.g != 'NC'"}],
          "mark": {"type": "text", "align": "center"},
          "encoding": {"x": {"field": "g", "type": "nominal"}, "y": {"datum": -0.77, "type": "quantitative"}, "text": {"field": "n"}}
        },
        {
          "data": {"name": "posA"},
          "transform": [{"filter": "datum.g == 'NC'"}],
          "mark": {"type": "text", "align": "left", "dx": -17},
          "encoding": {"x": {"field": "g", "type": "nominal"}, "y": {"datum": -0.77, "type": "quantitative"}, "text": {"field": "n"}}
        },
        {
          "data": {"name": "posA"},
          "transform": [{"filter": "datum.g == 'NC'"}],
          "mark": {"type": "text", "text": "positive:", "align": "left", "dx": -166},
          "encoding": {"x": {"field": "g", "type": "nominal"}, "y": {"datum": -0.77, "type": "quantitative"}}
        }
      ]
    },
    {
      "width": 772, "height": 348,
      "layer": [
        {
          "data": {"values": [{}]},
          "mark": {"type": "rule", "color": "black", "strokeWidth": 4.5, "strokeCap": "round", "strokeDash": [0.1, 11]},
          "encoding": {"y": {"datum": 0.13, "type": "quantitative", "scale": {"domain": [0, 2.5], "nice": false, "zero": false}}}
        },
        {
          "data": {"name": "ptsB"},
          "mark": {"type": "point", "shape": "square", "filled": false, "size": 270, "strokeWidth": 6, "color": "black", "opacity": 1},
          "encoding": {
            "x": {"field": "g", "type": "nominal",
                  "scale": {"type": "band", "domain": ["1M","3-<6M","6-<12M","1Y","1-<6Y",">20Y"], "paddingInner": 0, "paddingOuter": 0},
                  "axis": {"title": null}},
            "xOffset": {"field": "j", "type": "quantitative", "scale": {"domain": [-0.5, 0.5], "range": [0, 128.67]}},
            "y": {"field": "v", "type": "quantitative", "scale": {"domain": [0, 2.5], "nice": false, "zero": false},
                  "axis": {"title": "rOD", "values": [0, 0.5, 1, 1.5, 2, 2.5, 0.13], "labelExpr": "datum.value == 0.13 ? '' : format(datum.value, '.1f')"}}
          }
        },
        {
          "data": {"name": "posB"},
          "transform": [{"filter": "datum.g == '1M'"}],
          "mark": {"type": "text", "text": "UH D1-4 NS1 IgG ELISA", "align": "left", "dx": -39},
          "encoding": {"x": {"field": "g", "type": "nominal"}, "y": {"datum": 2.46, "type": "quantitative"}}
        },
        {
          "data": {"name": "posB"},
          "transform": [{"filter": "datum.g == '1M'"}],
          "mark": {"type": "text", "text": "pDENV", "align": "left", "dx": -13},
          "encoding": {"x": {"field": "g", "type": "nominal"}, "y": {"datum": 2.2, "type": "quantitative"}}
        },
        {
          "data": {"name": "posB"},
          "transform": [{"filter": "datum.g == '1M'"}],
          "mark": {"type": "text", "text": "B", "align": "left", "dx": -218, "fontSize": 21},
          "encoding": {"x": {"field": "g", "type": "nominal"}, "y": {"datum": 2.57, "type": "quantitative"}}
        },
        {
          "data": {"name": "posB"},
          "transform": [{"filter": "datum.g != '1M'"}],
          "mark": {"type": "text", "align": "center"},
          "encoding": {"x": {"field": "g", "type": "nominal"}, "y": {"datum": -0.54, "type": "quantitative"}, "text": {"field": "n"}}
        },
        {
          "data": {"name": "posB"},
          "transform": [{"filter": "datum.g == '1M'"}],
          "mark": {"type": "text", "align": "left", "dx": -10},
          "encoding": {"x": {"field": "g", "type": "nominal"}, "y": {"datum": -0.54, "type": "quantitative"}, "text": {"field": "n"}}
        },
        {
          "data": {"name": "posB"},
          "transform": [{"filter": "datum.g == '1M'"}],
          "mark": {"type": "text", "text": "positive:", "align": "left", "dx": -166},
          "encoding": {"x": {"field": "g", "type": "nominal"}, "y": {"datum": -0.54, "type": "quantitative"}}
        }
      ]
    },
    {
      "width": 900, "height": 347,
      "layer": [
        {
          "data": {"values": [{}]},
          "mark": {"type": "rule", "color": "black", "strokeWidth": 4.5, "strokeCap": "round", "strokeDash": [0.1, 11]},
          "encoding": {"y": {"datum": 0.13, "type": "quantitative", "scale": {"domain": [0, 2.5], "nice": false, "zero": false}}}
        },
        {
          "data": {"name": "ptsC"},
          "mark": {"type": "point", "shape": "circle", "filled": false, "size": 289, "strokeWidth": 5.5, "color": "black", "opacity": 1},
          "encoding": {
            "x": {"field": "g", "type": "nominal",
                  "scale": {"type": "band", "domain": ["<1M","1M","3-<6M","1Y","1-<6Y","6-15Y",">20Y"], "paddingInner": 0, "paddingOuter": 0},
                  "axis": {"title": null}},
            "xOffset": {"field": "j", "type": "quantitative", "scale": {"domain": [-0.5, 0.5], "range": [0, 128.57]}},
            "y": {"field": "v", "type": "quantitative", "scale": {"domain": [0, 2.5], "nice": false, "zero": false},
                  "axis": {"title": "rOD", "values": [0, 0.5, 1, 1.5, 2, 2.5, 0.13], "labelExpr": "datum.value == 0.13 ? '' : format(datum.value, '.1f')"}}
          }
        },
        {
          "data": {"name": "ptsC"},
          "transform": [{"filter": {"field": "g", "oneOf": ["3-<6M", "1Y"]}}],
          "mark": {"type": "point", "shape": "M-1,0A1,1,0,0,1,1,0Z", "filled": true, "size": 289, "strokeWidth": 0, "color": "black", "opacity": 1},
          "encoding": {"x": {"field": "g", "type": "nominal"}, "xOffset": {"field": "j", "type": "quantitative"}, "y": {"field": "v", "type": "quantitative"}}
        },
        {
          "data": {"name": "ptsC"},
          "transform": [{"filter": {"field": "g", "oneOf": ["1-<6Y", "6-15Y"]}}],
          "mark": {"type": "point", "shape": "M0,-1A1,1,0,0,0,0,1Z", "filled": true, "size": 289, "strokeWidth": 0, "color": "black", "opacity": 1},
          "encoding": {"x": {"field": "g", "type": "nominal"}, "xOffset": {"field": "j", "type": "quantitative"}, "y": {"field": "v", "type": "quantitative"}}
        },
        {
          "data": {"name": "ptsC"},
          "transform": [{"filter": "datum.g == '>20Y'"}],
          "mark": {"type": "point", "shape": "circle", "filled": true, "size": 289, "strokeWidth": 0, "color": "black", "opacity": 1},
          "encoding": {"x": {"field": "g", "type": "nominal"}, "xOffset": {"field": "j", "type": "quantitative"}, "y": {"field": "v", "type": "quantitative"}}
        },
        {
          "data": {"name": "posC"},
          "transform": [{"filter": "datum.g == '<1M'"}],
          "mark": {"type": "text", "text": "UH D1-4 NS1 IgG ELISA", "align": "left", "dx": -39},
          "encoding": {"x": {"field": "g", "type": "nominal"}, "y": {"datum": 2.46, "type": "quantitative"}}
        },
        {
          "data": {"name": "posC"},
          "transform": [{"filter": "datum.g == '<1M'"}],
          "mark": {"type": "text", "text": "sDENV", "align": "left", "dx": -13},
          "encoding": {"x": {"field": "g", "type": "nominal"}, "y": {"datum": 2.2, "type": "quantitative"}}
        },
        {
          "data": {"name": "posC"},
          "transform": [{"filter": "datum.g == '<1M'"}],
          "mark": {"type": "text", "text": "C", "align": "left", "dx": -218, "fontSize": 21},
          "encoding": {"x": {"field": "g", "type": "nominal"}, "y": {"datum": 2.56, "type": "quantitative"}}
        },
        {
          "data": {"name": "posC"},
          "transform": [{"filter": "datum.g != '<1M'"}],
          "mark": {"type": "text", "align": "center"},
          "encoding": {"x": {"field": "g", "type": "nominal"}, "y": {"datum": -0.6, "type": "quantitative"}, "text": {"field": "n"}}
        },
        {
          "data": {"name": "posC"},
          "transform": [{"filter": "datum.g == '<1M'"}],
          "mark": {"type": "text", "align": "left", "dx": -14},
          "encoding": {"x": {"field": "g", "type": "nominal"}, "y": {"datum": -0.6, "type": "quantitative"}, "text": {"field": "n"}}
        },
        {
          "data": {"name": "posC"},
          "transform": [{"filter": "datum.g == '<1M'"}],
          "mark": {"type": "text", "text": "positive:", "align": "left", "dx": -166},
          "encoding": {"x": {"field": "g", "type": "nominal"}, "y": {"datum": -0.6, "type": "quantitative"}}
        }
      ]
    },
    {
      "width": 295, "height": 342,
      "layer": [
        {
          "data": {"values": [{}]},
          "mark": {"type": "rule", "color": "black", "strokeWidth": 4.5, "strokeCap": "round", "strokeDash": [0.1, 11]},
          "encoding": {"y": {"datum": 0.13, "type": "quantitative", "scale": {"domain": [0, 2.5], "nice": false, "zero": false}}}
        },
        {
          "data": {"name": "ptsD"},
          "mark": {"type": "point", "shape": "diamond", "filled": false, "size": 200, "strokeWidth": 5.5, "color": "black", "opacity": 1},
          "encoding": {
            "x": {"field": "g", "type": "nominal",
                  "scale": {"type": "band", "domain": ["3M-1.5Y","1.5-2.5Y"], "paddingInner": 0, "paddingOuter": 0},
                  "axis": {"title": null}},
            "xOffset": {"field": "j", "type": "quantitative", "scale": {"domain": [-0.5, 0.5], "range": [0, 147.5]}},
            "y": {"field": "v", "type": "quantitative", "scale": {"domain": [0, 2.5], "nice": false, "zero": false},
                  "axis": {"title": "rOD", "values": [0, 0.5, 1, 1.5, 2, 2.5, 0.13], "labelExpr": "datum.value == 0.13 ? '' : format(datum.value, '.1f')"}}
          }
        },
        {
          "data": {"name": "posD"},
          "transform": [{"filter": "datum.g == '3M-1.5Y'"}],
          "mark": {"type": "text", "text": "UH D1-4 NS1 IgG ELISA", "align": "left", "dx": -49},
          "encoding": {"x": {"field": "g", "type": "nominal"}, "y": {"datum": 2.46, "type": "quantitative"}}
        },
        {
          "data": {"name": "posD"},
          "transform": [{"filter": "datum.g == '3M-1.5Y'"}],
          "mark": {"type": "text", "text": "ZIKVwprDENV", "align": "left", "dx": -21},
          "encoding": {"x": {"field": "g", "type": "nominal"}, "y": {"datum": 2.2, "type": "quantitative"}}
        },
        {
          "data": {"name": "posD"},
          "transform": [{"filter": "datum.g == '3M-1.5Y'"}],
          "mark": {"type": "text", "text": "D", "align": "left", "dx": -228, "fontSize": 21},
          "encoding": {"x": {"field": "g", "type": "nominal"}, "y": {"datum": 2.55, "type": "quantitative"}}
        },
        {
          "data": {"name": "posD"},
          "transform": [{"filter": "datum.g != '3M-1.5Y'"}],
          "mark": {"type": "text", "align": "center"},
          "encoding": {"x": {"field": "g", "type": "nominal"}, "y": {"datum": -0.55, "type": "quantitative"}, "text": {"field": "n"}}
        },
        {
          "data": {"name": "posD"},
          "transform": [{"filter": "datum.g == '3M-1.5Y'"}],
          "mark": {"type": "text", "align": "left", "dx": -15},
          "encoding": {"x": {"field": "g", "type": "nominal"}, "y": {"datum": -0.55, "type": "quantitative"}, "text": {"field": "n"}}
        },
        {
          "data": {"name": "posD"},
          "transform": [{"filter": "datum.g == '3M-1.5Y'"}],
          "mark": {"type": "text", "text": "positive:", "align": "left", "dx": -176},
          "encoding": {"x": {"field": "g", "type": "nominal"}, "y": {"datum": -0.55, "type": "quantitative"}}
        }
      ]
    }
  ]
}
